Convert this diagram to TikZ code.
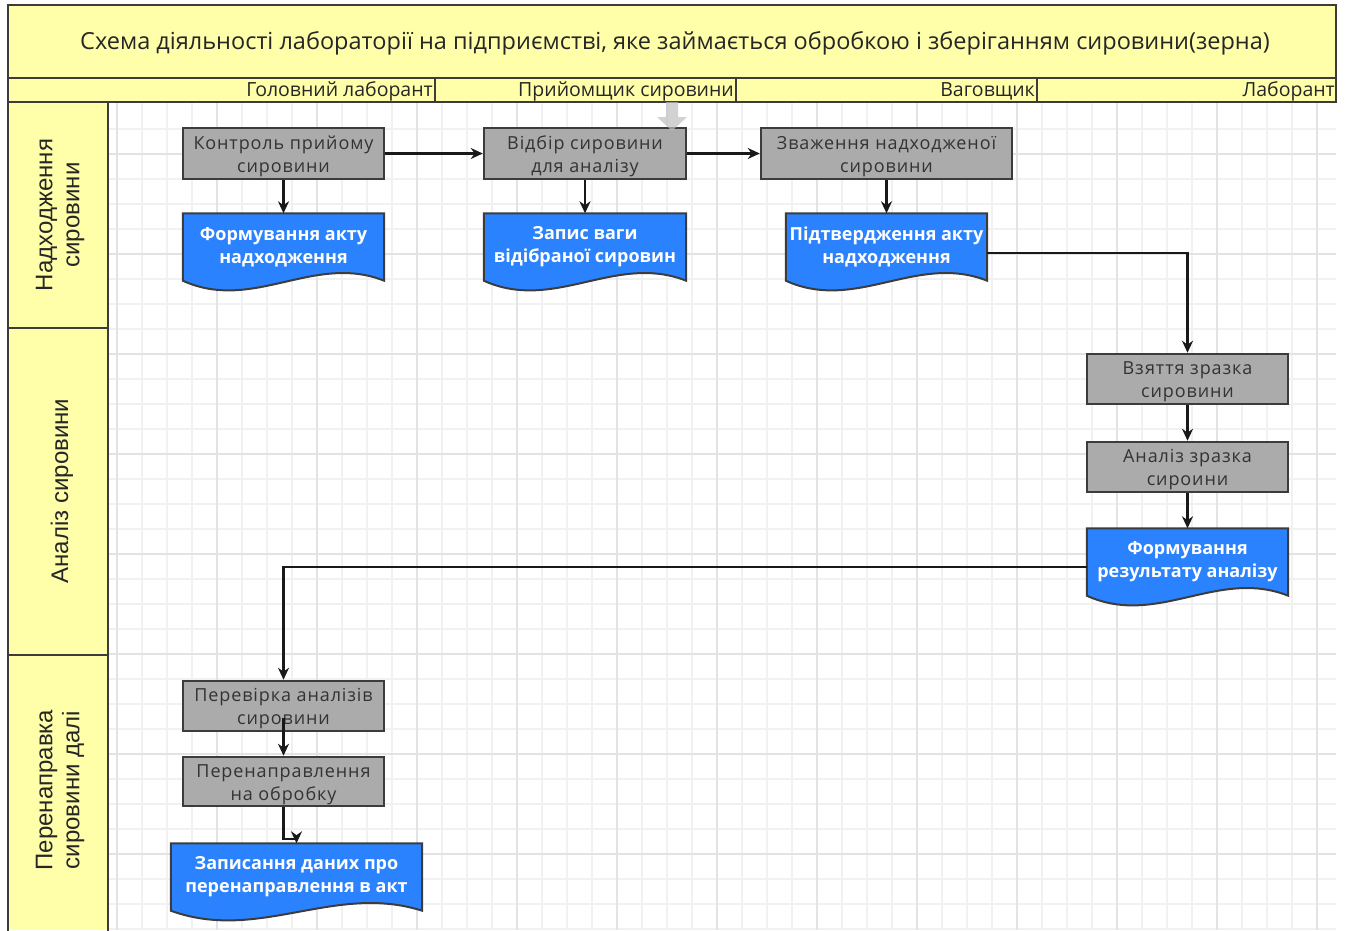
\documentclass[tikz,border=0pt]{standalone}
\usepackage{fontspec}
\setmainfont{Open Sans}
\newfontfamily\boxfont[LetterSpace=5]{Open Sans}
\newfontfamily\lanefont{Liberation Sans}
\usetikzlibrary{arrows.meta,calc,backgrounds}

\definecolor{laneyellow}{HTML}{FFFFAA}
\definecolor{procgray}{HTML}{ABABAB}
\definecolor{docblue}{HTML}{2B82FF}
\definecolor{edgedark}{HTML}{3C3C3C}
\definecolor{gridminor}{HTML}{F1F1F1}
\definecolor{gridmajor}{HTML}{E3E3E3}

% taller first line, so that two-line box labels sit slightly lower
\newcommand{\toplift}{\rule{0pt}{19pt}}

\begin{document}
\begin{tikzpicture}[x=1pt,y=-1pt,
  proc/.style={draw=edgedark, line width=2.5pt, fill=procgray, inner sep=0pt,
    align=center, text=black!80, font=\boxfont\fontsize{18}{23}\selectfont},
  docnode/.style={inner sep=0pt, align=center, text=white,
    font=\bfseries\fontsize{18}{23}\selectfont},
  docshape/.style={fill=docblue, draw=edgedark, line width=2pt},
  flow/.style={line width=2.2pt, draw=black!90, -{Stealth[length=12pt,width=11pt]}},
  band/.style={draw=edgedark, line width=2.2pt, fill=laneyellow},
  role/.style={anchor=east, inner sep=1pt, text=black!85, font=\fontsize{19.5}{22}\selectfont},
  lanelabel/.style={rotate=90, align=center, text=black!85, font=\lanefont\fontsize{24}{27}\selectfont}
]
\useasboundingbox (0,0) rectangle (1351,930);

% drawing canvas grid
\begin{scope}[on background layer]
  \foreach \x in {142,167,...,1336} \draw[gridminor, line width=1.3pt] (\x,102) -- (\x,930);
  \foreach \y in {129,154,...,930} \draw[gridminor, line width=1.3pt] (108,\y) -- (1336,\y);
  \foreach \x in {117,217,...,1336} \draw[gridmajor, line width=1.5pt] (\x,102) -- (\x,930);
  \foreach \y in {154,254,...,930} \draw[gridmajor, line width=1.5pt] (108,\y) -- (1336,\y);
\end{scope}

% title band and role row
\draw[band] (8,5) rectangle (1336,78);
\node[text=black!85, font=\fontsize{23.5}{26}\selectfont] (title) at (675,43)
  {Схема діяльності лабораторії на підприємстві, яке займається обробкою і зберіганням сировини(зерна)};
\draw[band] (8,78) rectangle (1336,102);
\draw[edgedark, line width=2.2pt] (435,78) -- (435,102) (736,78) -- (736,102) (1037,78) -- (1037,102);
\node[role] (r1) at (434,91) {Головний лаборант};
\node[role] (r2) at (735,91) {Прийомщик сировини};
\node[role] (r3) at (1036,91) {Ваговщик};
\node[role] (r4) at (1336,91) {Лаборант};

% phase lanes
\draw[band] (8,102) rectangle (108,328);
\draw[band] (8,328) rectangle (108,655);
\fill[laneyellow] (8,655) rectangle (108,930);
\draw[edgedark, line width=2.2pt] (8,932) -- (8,655) -- (108,655) -- (108,932);
\node[lanelabel] (l1) at (60,215) {Надходження\\сировини};
\node[lanelabel] (l2) at (62,491) {Аналіз сировини};
\node[lanelabel] (l3) at (60,790) {Перенаправка\\сировини далі};

% process steps
\node[proc, minimum width=201pt, minimum height=51pt] (b1) at (283.5,153.5) {\toplift Контроль прийому\\сировини};
\node[proc, minimum width=202pt, minimum height=51pt] (b2) at (585,153.5) {\toplift Відбір сировини\\для аналізу};
\node[proc, minimum width=251pt, minimum height=51pt] (b3) at (886.5,153.5) {\toplift Зваження надходженої\\сировини};
\node[proc, minimum width=201pt, minimum height=50pt] (b4) at (1187.5,379) {\toplift Взяття зразка\\сировини};
\node[proc, minimum width=201pt, minimum height=50pt] (b5) at (1187.5,467) {\toplift Аналіз зразка\\сироини};
\node[proc, minimum width=201pt, minimum height=50pt] (b6) at (283.5,706) {\toplift Перевірка аналізів\\сировини};
\node[proc, minimum width=201pt, minimum height=49pt] (b7) at (283.5,781.5) {\toplift Перенаправлення\\на обробку};

% documents
\node[docnode, minimum width=201pt, minimum height=67pt] (d1) at (283.5,247) {Формування акту\\надходження};
\node[docnode, minimum width=202pt, minimum height=67pt] (d2) at (585,247) {Запис ваги\\відібраної сировин};
\node[docnode, minimum width=201pt, minimum height=67pt] (d3) at (886.5,247) {Підтвердження акту\\надходження};
\node[docnode, minimum width=201pt, minimum height=67pt] (d4) at (1187.5,562) {Формування\\результату аналізу};
\node[docnode, minimum width=251pt, minimum height=67pt] (d5) at (296.5,877) {Записання даних про\\перенаправлення в акт};

\begin{scope}[on background layer]
  \foreach \n in {d1,d2,d3,d4,d5}
    \draw[docshape] (\n.north west) -- (\n.north east) -- (\n.south east)
      .. controls ($(\n.south west)!0.65!(\n.south east)+(0,-28)$)
             and ($(\n.south west)!0.35!(\n.south east)+(0,32)$) .. (\n.south west) -- cycle;
\end{scope}

% flow connectors
\draw[flow] (b1.east) -- (b2.west);
\draw[flow] (b2.east) -- (b3.west);
\draw[flow] (b1.south) -- (d1.north);
\draw[flow] (b2.south) -- (d2.north);
\draw[flow] (b3.south) -- (d3.north);
\draw[flow] ([yshift=-6pt]d3.east) -| (b4.north);
\draw[flow] (b4.south) -- (b5.north);
\draw[flow] (b5.south) -- (d4.north);
\draw[flow] ([yshift=-5pt]d4.west) -| (b6.north);
\draw[flow] ([yshift=-12pt]b6.center) -- (b7.north);
\draw[flow] (b7.south) -- ++(0,32) -| (d5.north);

% faint drop marker near the second column
\fill[black!25, opacity=0.7] (666,102) -- (678,102) -- (678,117) -- (687,117)
  -- (672,131) -- (657,117) -- (666,117) -- cycle;
\end{tikzpicture}
\end{document}
